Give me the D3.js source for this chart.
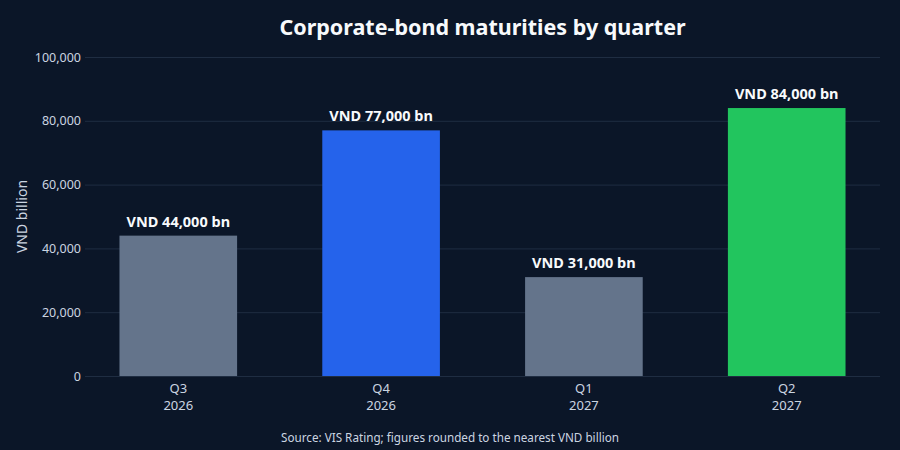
<!DOCTYPE html>
<html><head><meta charset="utf-8">
<script src="https://cdn.jsdelivr.net/npm/d3@7"></script>
<style>html,body{margin:0;padding:0;background:#0b1628;}svg{display:block;font-family:"Noto Sans","Open Sans",sans-serif;}</style>
</head><body>
<svg id="c" width="900" height="450"></svg>
<script>
const quarters = ["Q3", "Q4", "Q1", "Q2"];
const years = ["2026", "2026", "2027", "2027"];
const values = [44000, 77000, 31000, 84000];
const barColors = ["#64748b", "#2563eb", "#64748b", "#22c55e"];
const yTicks = [0, 20000, 40000, 60000, 80000, 100000];
const labels = values.map(v => "VND " + d3.format(",")(v) + " bn");

const svg = d3.select("#c");
const W = 900, H = 450;
svg.append("rect").attr("width", W).attr("height", H).attr("fill", "#0b1628");
const m = {l: 85, r: 20, t: 57, b: 74};
const x = d3.scaleBand().domain(d3.range(quarters.length)).range([m.l, W - m.r]).paddingInner(0.42).paddingOuter(0.17);
const y = d3.scaleLinear().domain([0, 100000]).range([H - m.b - 0, m.t]);

svg.append("text").attr("x", (m.l + W - m.r)/2).attr("y", 35).attr("text-anchor", "middle")
  .attr("fill", "#f8fafc").attr("font-size", 21.5).attr("font-weight", 700).text("Corporate-bond maturities by quarter");

const ya = svg.append("g").attr("transform", `translate(${m.l},0)`)
  .call(d3.axisLeft(y).tickValues(yTicks).tickFormat(d3.format(",")).tickSize(-(W - m.r - m.l)).tickPadding(4));
ya.select(".domain").remove();
ya.selectAll(".tick line").attr("stroke", "#1f2d42").attr("stroke-width", 1);
ya.selectAll(".tick text").attr("fill", "#cbd5e1").attr("font-size", 12.5).attr("font-family", "Noto Sans, sans-serif");

svg.append("text").attr("transform", `translate(27,${(y(0)+y(100000))/2}) rotate(-90)`)
  .attr("text-anchor", "middle").attr("fill", "#cbd5e1").attr("font-size", 14).text("VND billion");

svg.append("g").selectAll("rect").data(values).join("rect")
  .attr("x", (d, i) => x(i)).attr("width", x.bandwidth())
  .attr("y", d => y(d)).attr("height", d => y(0) - y(d))
  .attr("fill", (d, i) => barColors[i]);

svg.append("g").selectAll("text").data(values).join("text")
  .attr("x", (d, i) => x(i) + x.bandwidth()/2).attr("y", d => y(d) - 9)
  .attr("text-anchor", "middle").attr("fill", "#f8fafc").attr("font-size", 14.5).attr("font-weight", 700)
  .text((d, i) => labels[i]);

const xl = svg.append("g").selectAll("text").data(quarters).join("text")
  .attr("x", (d, i) => x(i) + x.bandwidth()/2).attr("text-anchor", "middle")
  .attr("fill", "#cbd5e1").attr("font-size", 13);
xl.append("tspan").attr("x", (d, i) => x(i) + x.bandwidth()/2).attr("y", y(0) + 17).text(d => d);
xl.append("tspan").attr("x", (d, i) => x(i) + x.bandwidth()/2).attr("y", y(0) + 34).text((d, i) => years[i]);

svg.append("text").attr("x", W/2).attr("y", 442).attr("text-anchor", "middle")
  .attr("fill", "#cbd5e1").attr("font-size", 11.7).text("Source: VIS Rating; figures rounded to the nearest VND billion");
</script>
</body></html>
